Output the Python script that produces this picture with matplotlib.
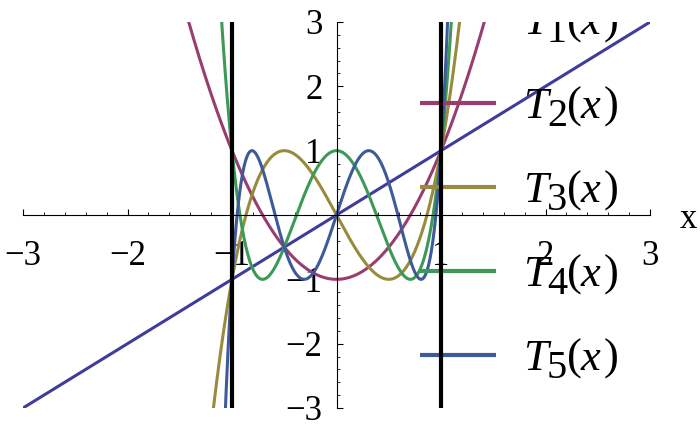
import numpy as np
import matplotlib
matplotlib.use("Agg")
import matplotlib.pyplot as plt
from numpy.polynomial import polynomial as P

# Chebyshev polynomials T1..T5 (power-series coefficients, lowest order first)
names = ["1", "2", "3", "4", "5"]
coef_T1 = [0, 1]
coef_T2 = [-1, 0, 2]
coef_T3 = [0, -3, 0, 4]
coef_T4 = [1, 0, -8, 0, 8]
coef_T5 = [0, 5, 0, -20, 0, 16]
coefs = [coef_T1, coef_T2, coef_T3, coef_T4, coef_T5]
colors = [(0.2472, 0.24, 0.6), (0.6, 0.24, 0.442893), (0.6, 0.547014, 0.24),
          (0.24, 0.6, 0.33692), (0.24, 0.353173, 0.6)]
vlines_x = [-1, 1]
x_range = [-3, 3]
y_range = [-3, 3]
x_ticks = [-3, -2, -1, 1, 2, 3]
y_ticks = [-3, -2, -1, 1, 2, 3]

SERIF = "Liberation Serif"

fig = plt.figure(figsize=(7, 4.33), dpi=100)
W, H = 700, 433
ax = fig.add_axes([23 / W, 1 - 408 / H, 627 / W, 386 / H])
ax.set_xlim(*x_range)
ax.set_ylim(*y_range)
ax.set_axisbelow(True)

xs = np.linspace(x_range[0], x_range[1], 3001)
for c, col in zip(coefs, colors):
    ax.plot(xs, P.polyval(xs, c), color=col, lw=2.2, zorder=2, solid_capstyle="butt")

for xv in vlines_x:
    ax.axvline(xv, color="black", lw=3.0, zorder=10)

# axes through origin
for s in ["top", "right"]:
    ax.spines[s].set_visible(False)
ax.spines["bottom"].set_position(("data", 0))
ax.spines["left"].set_position(("data", 0))
for s in ["bottom", "left"]:
    ax.spines[s].set_linewidth(0.8)

ax.set_xticks(x_ticks)
ax.set_yticks(y_ticks)
ax.set_xticks(np.round(np.arange(-3, 3.01, 0.2), 2), minor=True)
ax.set_yticks(np.round(np.arange(-3, 3.01, 0.2), 2), minor=True)
fmt = lambda v: ("\u2212" + str(abs(v))) if v < 0 else str(v)
ax.set_xticklabels([fmt(v) for v in x_ticks], fontfamily=SERIF, fontsize=25)
ax.set_yticklabels([fmt(v) for v in y_ticks], fontfamily=SERIF, fontsize=25)
ax.tick_params(which="major", direction="in", length=4, width=0.8)
ax.tick_params(which="minor", direction="in", length=2.5, width=0.6)
ax.tick_params(axis="x", which="major", pad=18)
ax.tick_params(axis="y", which="major", pad=10)

fig.text(680 / W, 1 - 219 / H, "x", fontfamily=SERIF, fontsize=25, va="center", ha="left")

# legend, clipped to the plot area
leg_x0, leg_x1 = (420 - 23) / 627, (496 - 23) / 627
text_x = (523 - 23) / 627
row0 = (408 - 19) / 386
row_step = 84 / 386
pts = 72 / 100  # px -> pt
for i, (nm, col) in enumerate(zip(names, colors)):
    yf = row0 - i * row_step
    ln, = ax.plot([leg_x0, leg_x1], [yf, yf], transform=ax.transAxes, color=col,
                  lw=3.0, zorder=5, solid_capstyle="butt")
    ln.set_clip_path(ax.patch)
    pieces = [("T", "italic", 32, 0, 0), (nm, "normal", 29, 24, -8),
              ("(", "normal", 32, 44, 0), ("x", "italic", 32, 58, 0),
              (")", "normal", 32, 81, 0)]
    for txt, style, fs, dx, dy in pieces:
        t = ax.annotate(txt, xy=(text_x, yf), xycoords="axes fraction",
                        xytext=(dx * pts, (-15 + dy) * pts), textcoords="offset points",
                        fontfamily=SERIF, fontstyle=style, fontsize=fs,
                        ha="left", va="baseline", zorder=6, annotation_clip=False)
        t.set_clip_path(ax.patch)

fig.savefig("out.png", dpi=100)
